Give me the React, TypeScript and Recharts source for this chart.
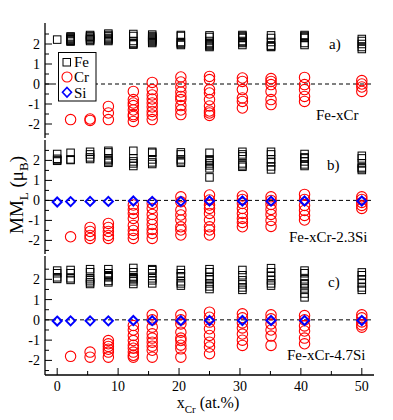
import React from 'react';
import { ScatterChart, Scatter, XAxis, YAxis, ReferenceLine } from 'recharts';

// Cr concentrations (at.%) shared by every panel
const xCr = [0, 2.2, 5.4, 8.4, 12.5, 15.6, 20.3, 25, 30.4, 35.1, 40.6, 50];

// a) Fe-xCr
const feA = [
  [2.22],
  [2.12, 2.16, 2.2, 2.24, 2.28, 2.33, 2.38],
  [2.15, 2.2, 2.24, 2.3, 2.36, 2.4, 2.45],
  [2.15, 2.2, 2.25, 2.3, 2.38, 2.45, 2.52],
  [1.97, 2.0, 2.05, 2.15, 2.4, 2.5],
  [2.05, 2.1, 2.15, 2.2, 2.25, 2.3, 2.35, 2.4, 2.47],
  [1.95, 2.0, 2.05, 2.1, 2.4, 2.45],
  [1.85, 1.9, 1.95, 2.0, 2.05, 2.15, 2.35, 2.43],
  [1.95, 2.05, 2.1, 2.15, 2.3, 2.35, 2.4, 2.45],
  [1.85, 1.88, 1.92, 2.1, 2.3, 2.43],
  [1.95, 2.05, 2.3, 2.35, 2.4, 2.45],
  [1.75, 1.85, 2.0, 2.15, 2.25],
];
const crA = [
  [],
  [-1.78],
  [-1.75, -1.82],
  [-1.12, -1.45, -1.78],
  [-0.37, -0.78, -0.95, -1.08, -1.3, -1.53, -1.62, -1.87],
  [0.08, -0.28, -0.55, -0.75, -0.95, -1.15, -1.37, -1.55, -1.78],
  [0.35, 0.1, -0.15, -0.4, -0.62, -0.78, -1.08, -1.3, -1.53],
  [0.38, 0.22, -0.28, -0.45, -0.78, -1.1, -1.35, -1.45, -1.57],
  [0.3, 0.13, -0.28, -0.7, -0.87, -1.2],
  [0.27, 0.13, -0.03, -0.37, -0.78, -1.03],
  [0.33, -0.03, -0.28, -0.62, -0.87],
  [0.17, 0.0, -0.15, -0.37],
];

// b) Fe-xCr-2.3Si
const feB = [
  [1.98, 2.02, 2.08, 2.32],
  [2.02, 2.05, 2.38],
  [2.07, 2.15, 2.3, 2.43],
  [1.88, 1.95, 2.02, 2.1, 2.4, 2.48],
  [1.72, 1.85, 1.95, 2.1, 2.48],
  [1.82, 1.9, 2.05, 2.38, 2.43],
  [1.88, 1.95, 2.05, 2.3, 2.4],
  [1.15, 1.6, 1.75, 1.85, 1.95, 2.05, 2.38],
  [1.68, 1.75, 1.85, 2.2, 2.3, 2.43],
  [1.55, 1.7, 1.9, 2.05, 2.3, 2.43],
  [1.72, 1.8, 1.95, 2.1, 2.15, 2.32],
  [1.52, 1.6, 1.65, 1.85, 2.1, 2.23],
];
const crB = [
  [],
  [-1.82],
  [-1.35, -1.55, -1.75, -1.9],
  [-1.15, -1.35, -1.55, -1.75, -1.9],
  [-0.23, -0.45, -0.65, -0.9, -1.25, -1.5, -1.7, -1.9],
  [-0.15, -0.4, -0.7, -0.95, -1.2, -1.45, -1.65, -1.9],
  [0.18, -0.07, -0.48, -0.73, -0.98, -1.32, -1.48, -1.73],
  [0.27, 0.02, -0.23, -0.4, -0.65, -0.98, -1.32, -1.48, -1.73],
  [0.22, 0.05, -0.15, -0.4, -0.65, -0.9, -1.1, -1.32],
  [0.18, 0.0, -0.2, -0.45, -0.7, -1.0, -1.3],
  [0.3, 0.05, -0.25, -0.5, -0.75, -0.98],
  [0.18, 0.05, -0.1, -0.25, -0.4],
];
const siB = [-0.08, -0.06, -0.05, -0.05, -0.03, -0.05, -0.05, -0.03, -0.03, -0.04, -0.03, -0.03];

// c) Fe-xCr-4.7Si
const feC = [
  [2.02, 2.1, 2.3, 2.43],
  [1.97, 2.05, 2.3, 2.46],
  [1.77, 1.85, 1.95, 2.05, 2.35, 2.5],
  [1.85, 1.92, 2.1, 2.15, 2.2, 2.3, 2.5],
  [1.77, 1.9, 2.0, 2.05, 2.1, 2.35, 2.56],
  [1.8, 1.95, 2.05, 2.3, 2.45, 2.5],
  [1.69, 1.8, 1.9, 2.15, 2.3, 2.46],
  [1.52, 1.65, 1.8, 2.0, 2.1, 2.35, 2.5],
  [1.48, 1.6, 1.75, 1.95, 2.2, 2.46],
  [1.69, 1.8, 1.95, 2.15, 2.35, 2.55],
  [1.11, 1.3, 1.55, 1.75, 1.8, 2.0, 2.3, 2.43],
  [1.48, 1.6, 1.8, 2.0, 2.2, 2.34],
];
const crC = [
  [],
  [-1.8],
  [-1.59, -1.84],
  [-1.02, -1.18, -1.31, -1.45, -1.59, -1.84],
  [-0.28, -0.5, -0.77, -1.02, -1.25, -1.4, -1.59, -1.75, -1.84],
  [0.25, 0.0, -0.36, -0.69, -0.9, -1.1, -1.3, -1.5, -1.84],
  [0.25, 0.0, -0.2, -0.61, -0.9, -1.02, -1.25, -1.43, -1.84],
  [0.38, 0.13, -0.11, -0.44, -0.77, -1.1, -1.34, -1.67],
  [0.3, 0.1, -0.15, -0.4, -0.7, -1.0, -1.26],
  [0.25, 0.05, -0.2, -0.5, -0.8, -1.26],
  [0.21, 0.0, -0.3, -0.55, -0.9, -1.18],
  [0.25, 0.1, -0.1, -0.25, -0.36],
];
const siC = [-0.06, -0.05, -0.05, -0.05, -0.03, -0.04, -0.04, -0.03, -0.03, -0.03, -0.03, -0.03];

const xTicks = [0, 5, 10, 15, 20, 25, 30, 35, 40, 45, 50];
const yTicks = [-2.5, -2, -1.5, -1, -0.5, 0, 0.5, 1, 1.5, 2, 2.5];

const FONT = "'Liberation Serif', 'Times New Roman', serif";

const toPoints = (cols: number[][]) =>
  cols.flatMap((vals, i) => vals.map((y) => ({ x: xCr[i], y })));
const siPoints = (vals: number[]) => vals.map((y, i) => ({ x: xCr[i], y }));

const Square = (p: any) => (
  <rect x={p.cx - 3.75} y={p.cy - 3.75} width={7.5} height={7.5} fill="none" stroke="#000" strokeWidth={1} />
);
const Ring = (p: any) => <circle cx={p.cx} cy={p.cy} r={5.2} fill="none" stroke="#ff0000" strokeWidth={1.1} />;
const Diamond = (p: any) => (
  <polygon
    points={`${p.cx},${p.cy - 4.5} ${p.cx + 4.5},${p.cy} ${p.cx},${p.cy + 4.5} ${p.cx - 4.5},${p.cy}`}
    fill="none"
    stroke="#0000ff"
    strokeWidth={2}
  />
);

const XTick = (props: any) => {
  const { x, y, payload, side, showLabel } = props;
  const v = payload.value;
  const major = v % 10 === 0;
  const dir = side === 'top' ? 1 : -1;
  return (
    <g>
      <line x1={x} y1={y} x2={x} y2={y + dir * (major ? 7 : 4)} stroke="#000" strokeWidth={1} />
      {showLabel && major && (
        <text x={x} y={y + 16} textAnchor="middle" style={{ fontFamily: FONT, fontSize: 14 }} fill="#000">
          {v}
        </text>
      )}
    </g>
  );
};

const YTick = (props: any) => {
  const { x, y, payload } = props;
  const v = payload.value;
  const major = Number.isInteger(v);
  return (
    <g>
      <line x1={x} y1={y} x2={x + (major ? 7 : 4)} y2={y} stroke="#000" strokeWidth={1} />
      {major && (
        <text x={x - 5} y={y + 5} textAnchor="end" style={{ fontFamily: FONT, fontSize: 14 }} fill="#000">
          {v}
        </text>
      )}
    </g>
  );
};

const panels = [
  { fe: feA, cr: crA, si: null, top: 23, bottom: 138, domain: [-2.7, 3.05], last: false },
  { fe: feB, cr: crB, si: siB, top: 140, bottom: 254, domain: [-2.68, 3.02], last: false },
  { fe: feC, cr: crC, si: siC, top: 256, bottom: 375, domain: [-2.72, 3.15], last: true },
];

const W = 393;
const H = 420;

const Panel = ({ cfg }: { cfg: any }) => {
  const xh = cfg.last ? 30 : 0;
  return (
    <ScatterChart
      width={W}
      height={H}
      margin={{ top: cfg.top, right: 19, left: 0, bottom: H - cfg.bottom - xh }}
      style={{ position: 'absolute', left: 0, top: 0 }}
    >
      <XAxis
        dataKey="x"
        type="number"
        domain={[-2, 52]}
        allowDataOverflow
        ticks={xTicks}
        interval={0}
        height={xh}
        tickSize={0}
        tickMargin={0}
        tickLine={false}
        axisLine={{ stroke: '#000', strokeWidth: 1.3 }}
        tick={<XTick side="bottom" showLabel={cfg.last} />}
      />
      <XAxis
        xAxisId="top"
        orientation="top"
        type="number"
        domain={[-2, 52]}
        allowDataOverflow
        ticks={xTicks}
        interval={0}
        height={0}
        tickSize={0}
        tickMargin={0}
        tickLine={false}
        axisLine={{ stroke: '#000', strokeWidth: 1.3 }}
        tick={<XTick side="top" showLabel={false} />}
      />
      <YAxis
        dataKey="y"
        type="number"
        domain={cfg.domain}
        allowDataOverflow
        ticks={yTicks}
        interval={0}
        width={45}
        tickSize={0}
        tickMargin={0}
        tickLine={false}
        axisLine={{ stroke: '#000', strokeWidth: 1.3 }}
        tick={<YTick />}
      />
      <YAxis
        yAxisId="right"
        orientation="right"
        type="number"
        domain={cfg.domain}
        allowDataOverflow
        width={0}
        tick={false}
        tickLine={false}
        axisLine={{ stroke: '#000', strokeWidth: 1.3 }}
      />
      <ReferenceLine y={0} stroke="#000" strokeWidth={1} strokeDasharray="4 3" />
      <Scatter data={toPoints(cfg.fe)} shape={Square} isAnimationActive={false} />
      <Scatter data={toPoints(cfg.cr)} shape={Ring} isAnimationActive={false} />
      {cfg.si && <Scatter data={siPoints(cfg.si)} shape={Diamond} isAnimationActive={false} />}
    </ScatterChart>
  );
};

const Overlay = () => (
  <svg width={W} height={H} style={{ position: 'absolute', left: 0, top: 0, pointerEvents: 'none' }}>
    <g style={{ fontFamily: FONT }} fill="#000">
      {/* legend */}
      <rect x={58.5} y={52.5} width={37.5} height={48.5} fill="#fff" stroke="#000" strokeWidth={1} />
      <rect x={63} y={58.5} width={7.5} height={7.5} fill="none" stroke="#000" strokeWidth={1} />
      <text x={74} y={67} style={{ fontSize: 15 }}>Fe</text>
      <circle cx={67} cy={77} r={5} fill="none" stroke="#ff0000" strokeWidth={1.1} />
      <text x={74} y={82} style={{ fontSize: 15 }}>Cr</text>
      <polygon points="67,87.5 71.5,92.3 67,97 62.5,92.3" fill="none" stroke="#0000ff" strokeWidth={1.6} />
      <text x={74} y={97.5} style={{ fontSize: 15 }}>Si</text>

      {/* panel tags and names */}
      <text x={329} y={49} style={{ fontSize: 15 }}>a)</text>
      <text x={316} y={120} style={{ fontSize: 15 }}>Fe-xCr</text>
      <text x={327} y={170} style={{ fontSize: 15 }}>b)</text>
      <text x={289} y={242} style={{ fontSize: 15 }}>Fe-xCr-2.3Si</text>
      <text x={328} y={287} style={{ fontSize: 15 }}>c)</text>
      <text x={287} y={360} style={{ fontSize: 15 }}>Fe-xCr-4.7Si</text>

      {/* axis titles */}
      <text transform="translate(22.5,195) rotate(-90)" textAnchor="middle" style={{ fontSize: 19 }}>
        MM<tspan style={{ fontSize: 13 }} dy={5}>L</tspan>
        <tspan dy={-5}> (μ</tspan>
        <tspan style={{ fontSize: 13 }} dy={5}>B</tspan>
        <tspan dy={-5}>)</tspan>
      </text>
      <text x={208} y={408} textAnchor="middle" style={{ fontSize: 16 }}>
        x<tspan style={{ fontSize: 11 }} dy={5}>Cr</tspan>
        <tspan dy={-5}> (at.%)</tspan>
      </text>
    </g>
  </svg>
);

export default function App() {
  return (
    <div style={{ position: 'absolute', left: 0, top: 0, width: W, height: H, background: '#fff' }}>
      {panels.map((cfg, i) => (
        <Panel key={i} cfg={cfg} />
      ))}
      <Overlay />
    </div>
  );
}
